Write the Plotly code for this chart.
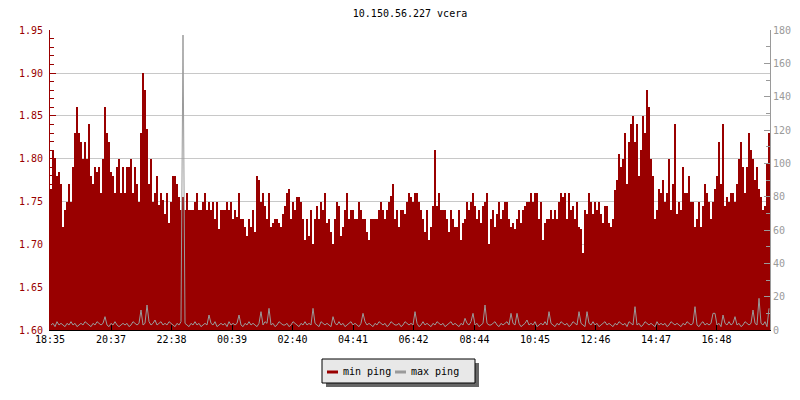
import plotly.graph_objects as go

title_text = "10.150.56.227 vcera"
tick_labels = ["18:35", "20:37", "22:38", "00:39", "02:40", "04:41",
               "06:42", "08:44", "10:45", "12:46", "14:47", "16:48"]
series_names = ["min ping", "max ping"]
step_minutes = 4

min_ping = [
    1.765, 1.81, 1.80, 1.78, 1.785, 1.77, 1.72, 1.74, 1.75, 1.77, 1.75, 1.79, 1.83, 1.86, 1.83, 1.82, 1.80, 1.82, 1.80, 1.84,
    1.78, 1.77, 1.79, 1.785, 1.79, 1.76, 1.80, 1.86, 1.83, 1.82, 1.785, 1.78, 1.76, 1.79, 1.80, 1.76, 1.79, 1.76, 1.79, 1.79,
    1.80, 1.76, 1.79, 1.77, 1.75, 1.83, 1.90, 1.88, 1.835, 1.77, 1.80, 1.75, 1.76, 1.78, 1.746, 1.76, 1.752, 1.736, 1.76, 1.725,
    1.75, 1.78, 1.78, 1.77, 1.755, 1.74, 1.755, 1.74, 1.76, 1.74, 1.74, 1.74, 1.75, 1.76, 1.74, 1.74, 1.75, 1.76, 1.74, 1.75,
    1.74, 1.75, 1.73, 1.75, 1.718, 1.74, 1.74, 1.74, 1.75, 1.74, 1.75, 1.73, 1.74, 1.732, 1.76, 1.73, 1.73, 1.72, 1.71, 1.73,
    1.72, 1.74, 1.715, 1.78, 1.775, 1.75, 1.76, 1.745, 1.73, 1.76, 1.72, 1.725, 1.73, 1.73, 1.725, 1.72, 1.735, 1.745, 1.76, 1.765,
    1.73, 1.75, 1.74, 1.755, 1.755, 1.75, 1.73, 1.705, 1.73, 1.71, 1.74, 1.70, 1.73, 1.745, 1.73, 1.75, 1.74, 1.76, 1.725, 1.73,
    1.715, 1.70, 1.73, 1.75, 1.745, 1.71, 1.72, 1.74, 1.76, 1.73, 1.74, 1.74, 1.73, 1.73, 1.75, 1.74, 1.73, 1.73, 1.715, 1.705,
    1.73, 1.73, 1.73, 1.73, 1.74, 1.75, 1.74, 1.73, 1.74, 1.75, 1.757, 1.77, 1.73, 1.74, 1.72, 1.74, 1.74, 1.735, 1.75, 1.76,
    1.755, 1.75, 1.76, 1.76, 1.75, 1.74, 1.73, 1.715, 1.74, 1.705, 1.72, 1.745, 1.81, 1.745, 1.76, 1.74, 1.74, 1.74, 1.73, 1.715,
    1.74, 1.73, 1.72, 1.72, 1.74, 1.705, 1.725, 1.73, 1.75, 1.74, 1.75, 1.76, 1.745, 1.73, 1.74, 1.725, 1.745, 1.75, 1.76, 1.70,
    1.73, 1.74, 1.72, 1.735, 1.75, 1.73, 1.74, 1.75, 1.75, 1.73, 1.72, 1.725, 1.718, 1.73, 1.74, 1.725, 1.74, 1.745, 1.75, 1.75,
    1.76, 1.75, 1.76, 1.76, 1.73, 1.75, 1.705, 1.725, 1.73, 1.73, 1.74, 1.73, 1.74, 1.73, 1.75, 1.76, 1.755, 1.76, 1.73, 1.76,
    1.74, 1.745, 1.73, 1.75, 1.72, 1.718, 1.69, 1.74, 1.735, 1.76, 1.75, 1.735, 1.75, 1.74, 1.75, 1.735, 1.725, 1.745, 1.745, 1.725,
    1.72, 1.73, 1.763, 1.775, 1.806, 1.79, 1.80, 1.83, 1.77, 1.82, 1.84, 1.85, 1.82, 1.84, 1.78, 1.81, 1.85, 1.83, 1.88, 1.86,
    1.80, 1.78, 1.73, 1.74, 1.765, 1.76, 1.775, 1.75, 1.76, 1.80, 1.74, 1.77, 1.84, 1.735, 1.75, 1.74, 1.79, 1.76, 1.76, 1.78,
    1.75, 1.75, 1.72, 1.73, 1.75, 1.72, 1.745, 1.77, 1.76, 1.75, 1.73, 1.75, 1.765, 1.78, 1.82, 1.77, 1.84, 1.745, 1.755, 1.75,
    1.76, 1.76, 1.75, 1.77, 1.80, 1.82, 1.79, 1.76, 1.79, 1.83, 1.81, 1.80, 1.775, 1.79, 1.765, 1.755, 1.74, 1.745, 1.795, 1.83,
]

max_ping = [
    3, 4, 2, 5, 3, 4, 3, 2, 4, 3, 5, 3, 4, 2, 3, 4, 3, 5, 4, 3,
    2, 4, 3, 5, 4, 3, 4, 8, 3, 2, 4, 3, 5, 3, 2, 3, 4, 3, 4, 2,
    3, 5, 4, 3, 4, 12, 3, 4, 15, 5, 3, 4, 6, 3, 4, 5, 3, 4, 3, 5,
    4, 3, 2, 4, 3, 5, 177, 4, 3, 2, 4, 3, 5, 3, 4, 2, 3, 4, 3, 9,
    4, 3, 5, 2, 3, 4, 3, 4, 2, 5, 3, 4, 3, 4, 9, 3, 2, 4, 3, 5,
    3, 4, 3, 2, 4, 11, 3, 5, 4, 13, 3, 4, 2, 3, 5, 4, 3, 3, 4, 2,
    3, 5, 4, 3, 2, 4, 3, 5, 3, 4, 3, 13, 4, 3, 2, 5, 4, 3, 4, 3,
    2, 8, 4, 3, 5, 3, 4, 2, 3, 4, 5, 3, 4, 3, 2, 4, 10, 5, 3, 4,
    3, 2, 4, 3, 5, 4, 3, 4, 2, 3, 5, 4, 3, 3, 4, 2, 3, 5, 4, 3,
    4, 3, 11, 4, 2, 3, 5, 3, 4, 3, 2, 4, 3, 5, 4, 3, 4, 2, 3, 4,
    5, 3, 4, 3, 2, 4, 3, 7, 4, 3, 5, 10, 3, 4, 2, 3, 4, 15, 4, 3,
    3, 4, 5, 3, 2, 4, 3, 4, 5, 3, 10, 4, 3, 10, 4, 2, 3, 4, 6, 3,
    4, 3, 5, 2, 3, 4, 3, 5, 3, 11, 4, 3, 2, 4, 3, 5, 4, 3, 4, 2,
    3, 5, 4, 3, 11, 4, 3, 2, 11, 4, 3, 5, 3, 4, 2, 3, 4, 5, 3, 4,
    3, 2, 4, 3, 5, 4, 3, 4, 2, 5, 4, 3, 14, 3, 4, 2, 3, 5, 4, 3,
    4, 3, 2, 5, 3, 4, 3, 4, 2, 3, 5, 4, 3, 4, 3, 2, 4, 3, 5, 4,
    3, 4, 14, 3, 2, 4, 5, 3, 4, 3, 4, 10, 10, 3, 4, 2, 9, 4, 3, 5,
    3, 4, 8, 3, 4, 2, 3, 5, 4, 3, 4, 12, 4, 3, 19, 4, 3, 5, 2, 13,
]

RED = "#990000"
GRAY = "#9a9a9a"
FONT = "DejaVu Sans Mono"

W, H = 800, 400
ML, MR, MT, MB = 50, 30, 30, 70
PW, PH = W - ML - MR, H - MT - MB


def px(xp):
    return (xp - ML) / PW


def py(yp):
    return (H - MB - yp) / PH


def minutes_from_start(label, start):
    h, m = map(int, label.split(":"))
    sh, sm = map(int, start.split(":"))
    return ((h * 60 + m) - (sh * 60 + sm)) % 1440


tick_vals = [minutes_from_start(t, tick_labels[0]) for t in tick_labels]
x_min = [i * step_minutes for i in range(len(min_ping))]
x_max = [i * step_minutes + step_minutes / 2 for i in range(len(max_ping))]
x_end = len(min_ping) * step_minutes

fig = go.Figure()
fig.add_trace(go.Bar(
    x=x_min, y=min_ping, width=step_minutes, offset=0, name=series_names[0],
    marker=dict(color=RED, line=dict(width=0)),
    showlegend=False, hoverinfo="skip",
))
fig.add_trace(go.Scatter(
    x=x_max, y=max_ping, yaxis="y2", mode="lines", name=series_names[1],
    line=dict(color=GRAY, width=1), showlegend=False, hoverinfo="skip",
))

# legend box (drawn to match the original's compact legend with a drop shadow)
lx0, lx1, ly0, ly1 = 322, 475, 359, 383
shapes = [
    dict(type="rect", xref="paper", yref="paper",
         x0=px(lx0 + 4), x1=px(lx1 + 4), y0=py(ly1 + 4), y1=py(ly0 + 4),
         fillcolor="#666666", line=dict(width=0)),
    dict(type="rect", xref="paper", yref="paper",
         x0=px(lx0), x1=px(lx1), y0=py(ly1), y1=py(ly0),
         fillcolor="#e8e8e8", line=dict(color="black", width=1)),
    dict(type="line", xref="paper", yref="paper",
         x0=px(327), x1=px(338), y0=py(372), y1=py(372),
         line=dict(color=RED, width=3)),
    dict(type="line", xref="paper", yref="paper",
         x0=px(395), x1=px(406), y0=py(372), y1=py(372),
         line=dict(color=GRAY, width=3)),
]
annotations = [
    dict(text=series_names[0], xref="paper", yref="paper", x=px(341), y=py(371),
         xanchor="left", yanchor="middle", showarrow=False,
         font=dict(family=FONT, size=10, color="black")),
    dict(text=series_names[1], xref="paper", yref="paper", x=px(409), y=py(371),
         xanchor="left", yanchor="middle", showarrow=False,
         font=dict(family=FONT, size=10, color="black")),
]

fig.update_layout(
    width=W, height=H,
    margin=dict(l=ML, r=MR, t=MT, b=MB, autoexpand=False),
    paper_bgcolor="white", plot_bgcolor="white",
    font=dict(family=FONT, size=10, color="black"),
    bargap=0,
    showlegend=False,
    shapes=shapes,
    annotations=annotations,
    title=dict(text=title_text, x=0.5, xref="paper", y=1 - 13 / H,
               yref="container", yanchor="middle", xanchor="center",
               font=dict(family=FONT, size=10, color="black")),
    xaxis=dict(range=[0, x_end], tickvals=tick_vals, ticktext=tick_labels,
               ticks="inside", ticklen=5, tickcolor="black",
               showline=True, linecolor="black", linewidth=1,
               showgrid=False, zeroline=False,
               tickfont=dict(family=FONT, size=10, color="black")),
    yaxis=dict(range=[1.60, 1.9503], dtick=0.05, tick0=1.60, tickformat=".2f",
               ticks="inside", ticklen=6, tickcolor=RED,
               showline=True, linecolor=RED, linewidth=1,
               showgrid=True, gridcolor="#c8c8c8", gridwidth=1, zeroline=False,
               ticklabelstandoff=4,
               minor=dict(dtick=0.01, ticks="inside", ticklen=4, tickcolor=RED, showgrid=False),
               tickfont=dict(family=FONT, size=10, color=RED)),
    yaxis2=dict(range=[0, 180.03], dtick=20, overlaying="y", side="right",
                ticks="inside", ticklen=6, tickcolor=GRAY,
                showline=True, linecolor=GRAY, linewidth=1,
                showgrid=False, zeroline=False,
                minor=dict(dtick=10, ticks="inside", ticklen=4, tickcolor=GRAY, showgrid=False),
                tickfont=dict(family=FONT, size=10, color=GRAY)),
)

fig.write_html("out.html", config={"displayModeBar": False},
               post_script="document.body.style.margin='0';")
